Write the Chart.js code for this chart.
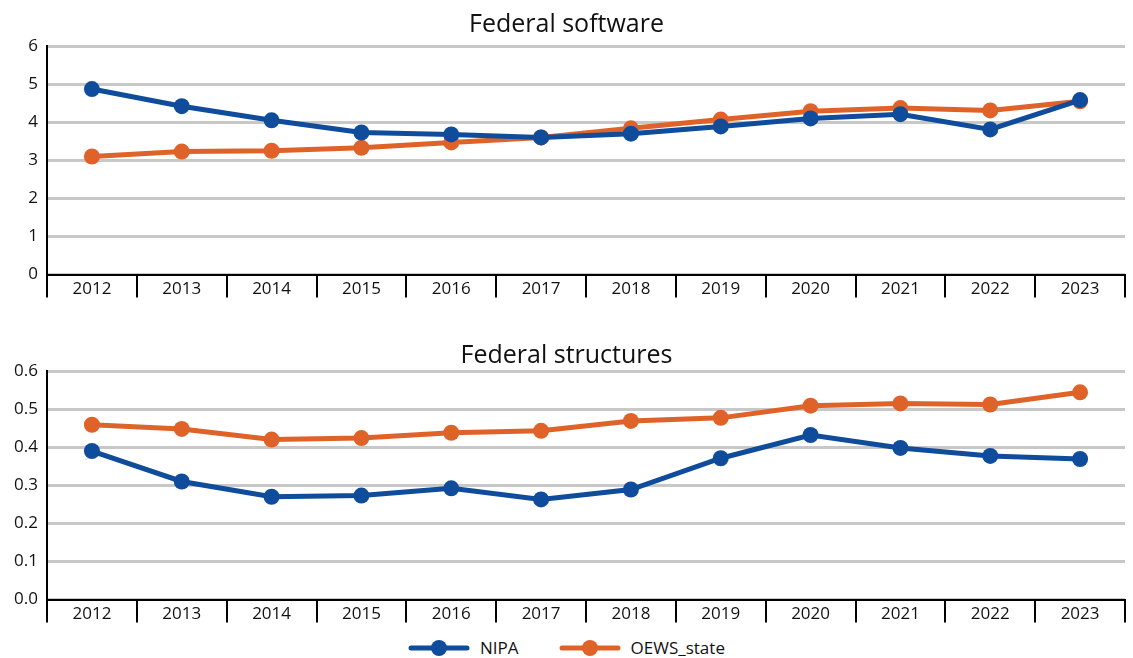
<!DOCTYPE html>
<html>
<head>
<meta charset="utf-8">
<script src="https://cdn.jsdelivr.net/npm/chart.js@4/dist/chart.umd.min.js"></script>
<style>
  body { margin: 0; background: #fff; overflow: hidden; font-family: 'Open Sans', sans-serif; }
  .box { position: absolute; left: 0; width: 1133px; }
  #top { top: 0; height: 303px; }
  #bottom { top: 330px; height: 298px; }
  #legend { position: absolute; left: 0; width: 1133px; top: 636px; height: 24px;
            display: flex; justify-content: center; align-items: center; }
  .item { display: flex; align-items: center; margin: 0 20px; font-size: 17px; line-height: 20px; color: #111; }
  .item canvas { margin-right: 10px; }
</style>
</head>
<body>
<div class="box" id="top"><canvas id="chartSoftware"></canvas></div>
<div class="box" id="bottom"><canvas id="chartStructures"></canvas></div>
<div id="legend"></div>
<script>
const years = ['2012', '2013', '2014', '2015', '2016', '2017', '2018', '2019', '2020', '2021', '2022', '2023'];

const softwareNIPA = [4.87, 4.42, 4.05, 3.73, 3.68, 3.60, 3.70, 3.89, 4.10, 4.21, 3.81, 4.58];
const softwareOEWS = [3.10, 3.23, 3.25, 3.33, 3.47, 3.60, 3.84, 4.07, 4.29, 4.37, 4.31, 4.55];

const structuresNIPA = [0.390, 0.310, 0.270, 0.273, 0.292, 0.263, 0.289, 0.371, 0.432, 0.398, 0.377, 0.369];
const structuresOEWS = [0.459, 0.448, 0.420, 0.424, 0.438, 0.443, 0.469, 0.477, 0.509, 0.515, 0.512, 0.544];

const blue = '#0f4c9b';
const orange = '#df6329';

Chart.defaults.font.family = "'Open Sans', sans-serif";
Chart.defaults.color = '#111';

// category separators below the x axis (like the tick marks between years)
const separators = {
    id: 'separators',
    afterDraw(chart) {
        const x = chart.scales.x;
        const ctx = chart.ctx;
        const n = chart.data.labels.length;
        const half = (x.getPixelForValue(1) - x.getPixelForValue(0)) / 2;
        ctx.save();
        ctx.strokeStyle = '#000';
        ctx.lineWidth = 2;
        ctx.beginPath();
        for (let i = 0; i <= n; i++) {
            const px = Math.round(x.getPixelForValue(i) - half);
            ctx.moveTo(px, x.top);
            ctx.lineTo(px, x.top + 23);
        }
        ctx.stroke();
        ctx.restore();
    }
};

function makeDatasets(nipa, oews) {
    return [
        { label: 'NIPA', data: nipa, borderColor: blue, backgroundColor: blue,
          borderWidth: 5, pointRadius: 8, pointBorderWidth: 0, tension: 0 },
        { label: 'OEWS_state', data: oews, borderColor: orange, backgroundColor: orange,
          borderWidth: 5, pointRadius: 8, pointBorderWidth: 0, tension: 0, order: 2 }
    ];
}

function makeOptions(title, max, step, decimals, padTop, padBottom) {
    return {
        responsive: true,
        maintainAspectRatio: false,
        animation: false,
        layout: { padding: 0 },
        plugins: {
            title: {
                display: true,
                text: title,
                color: '#111',
                font: { size: 25, weight: 'normal' },
                padding: { top: padTop, bottom: padBottom }
            },
            legend: { display: false },
            tooltip: { enabled: false }
        },
        scales: {
            x: {
                offset: true,
                grid: { display: false, drawTicks: false },
                border: { display: true, color: '#000', width: 2 },
                ticks: { font: { size: 17 }, color: '#111', padding: 4 }
            },
            y: {
                min: 0,
                max: max,
                afterFit: function (scale) { scale.width = 47; },
                grid: { color: '#c8c8c8', lineWidth: 3, drawTicks: false },
                border: { display: true, color: '#000', width: 2 },
                ticks: {
                    stepSize: step,
                    font: { size: 17 },
                    color: '#111',
                    padding: 9,
                    callback: function (v) { return Number(v).toFixed(decimals); }
                }
            }
        }
    };
}

new Chart(document.getElementById('chartSoftware'), {
    type: 'line',
    data: { labels: years, datasets: makeDatasets(softwareNIPA, softwareOEWS) },
    options: makeOptions('Federal software', 6, 1, 0, 10, 6),
    plugins: [separators]
});

const structures = new Chart(document.getElementById('chartStructures'), {
    type: 'line',
    data: { labels: years, datasets: makeDatasets(structuresNIPA, structuresOEWS) },
    options: makeOptions('Federal structures', 0.6, 0.1, 1, 11, 0),
    plugins: [separators]
});

// legend: line with a dot, then the series name
function legendIcon(color) {
    const c = document.createElement('canvas');
    c.width = 62; c.height = 18;
    const ctx = c.getContext('2d');
    ctx.strokeStyle = color;
    ctx.lineWidth = 5;
    ctx.lineCap = 'round';
    ctx.beginPath();
    ctx.moveTo(3, 9); ctx.lineTo(59, 9);
    ctx.stroke();
    ctx.fillStyle = color;
    ctx.beginPath();
    ctx.arc(31, 9, 8, 0, Math.PI * 2);
    ctx.fill();
    return c;
}

const legendEl = document.getElementById('legend');
structures.data.datasets.forEach(function (ds) {
    const item = document.createElement('div');
    item.className = 'item';
    item.appendChild(legendIcon(ds.borderColor));
    const txt = document.createElement('span');
    txt.textContent = ds.label;
    item.appendChild(txt);
    legendEl.appendChild(item);
});
</script>
</body>
</html>
